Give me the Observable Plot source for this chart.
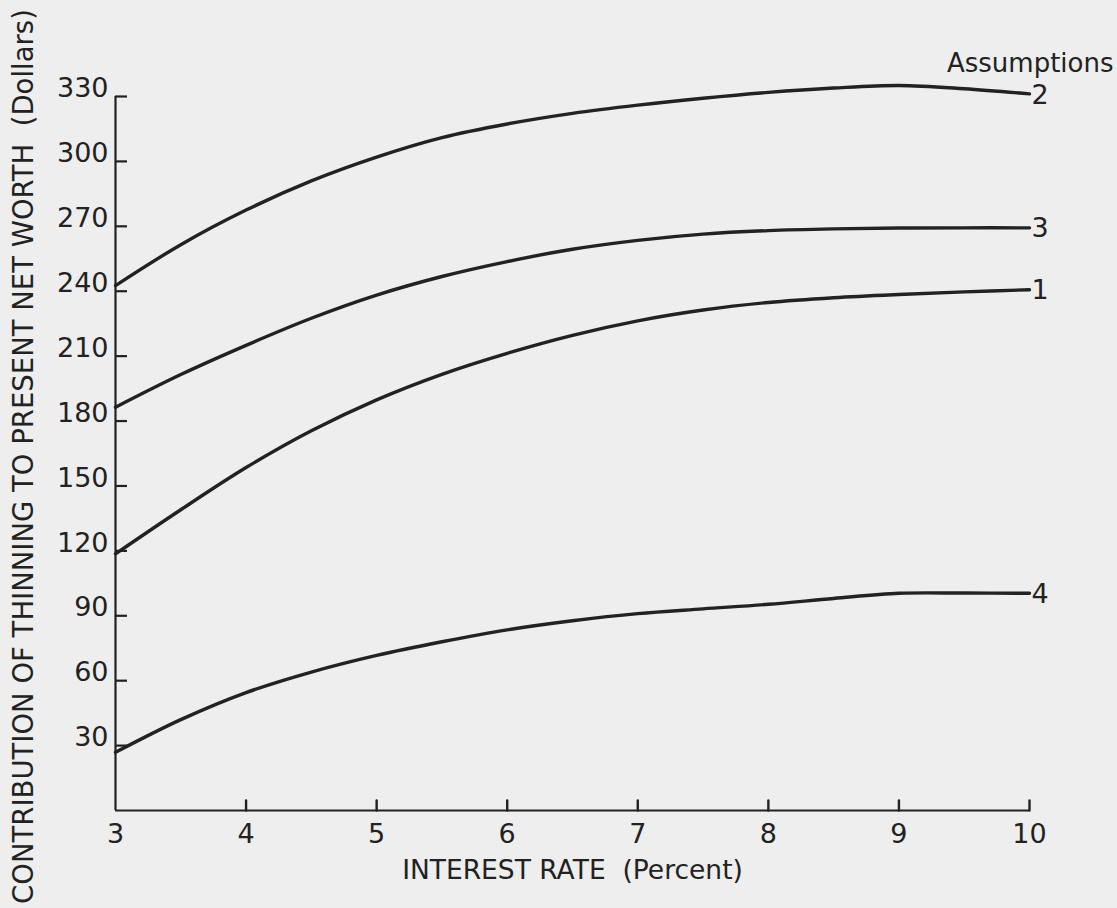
<!DOCTYPE html>
<html>
<head>
<meta charset="utf-8">
<script src="https://cdn.jsdelivr.net/npm/d3@7"></script>
<script src="https://cdn.jsdelivr.net/npm/@observablehq/plot@0.6"></script>
<style>
  html, body { margin: 0; padding: 0; background: #eeeeee; }
  #chart svg { display: block; background: transparent; }
</style>
</head>
<body>
<div id="chart"></div>
<script>
// Interest rate (percent)
const rates = [3, 3.5, 4, 4.5, 5, 5.5, 6, 6.5, 7, 7.5, 8, 8.5, 9, 9.5, 10];
// Contribution of thinning to present net worth (dollars), by assumption
const assumption1 = [118.6, 139, 158.5, 175.5, 189.8, 201.6, 211.3, 219.6, 226.3, 231.3, 234.8, 237, 238.5, 239.7, 240.7];
const assumption2 = [242.6, 261.5, 277.5, 291, 302, 311, 317.3, 322.2, 326, 329.2, 331.9, 333.9, 335.1, 333.6, 331.2];
const assumption3 = [186.4, 201.5, 215, 227.5, 238.2, 246.8, 253.7, 259.4, 263.5, 266.4, 268, 268.8, 269.2, 269.3, 269.3];
const assumption4 = [26.9, 42, 54.5, 64, 71.7, 78, 83.5, 87.7, 91, 93.2, 95.3, 98, 100.4, 100.5, 100.4];
const seriesNames = ["1", "2", "3", "4"];
const seriesValues = [assumption1, assumption2, assumption3, assumption4];

const xTicks = [3, 4, 5, 6, 7, 8, 9, 10];
const yTicks = [30, 60, 90, 120, 150, 180, 210, 240, 270, 300, 330];

const xTitle = "INTEREST RATE  (Percent)";
const yTitle = "CONTRIBUTION OF THINNING TO PRESENT NET WORTH  (Dollars)";
const legendTitle = "Assumptions";

const rows = seriesNames.flatMap((name, i) =>
  rates.map((r, j) => ({ series: name, rate: r, value: seriesValues[i][j] }))
);
const endRows = seriesNames.map((name, i) => ({
  series: name,
  rate: rates[rates.length - 1],
  value: seriesValues[i][rates.length - 1]
}));

const ink = "#222";
const font = "DejaVu Sans, Verdana, sans-serif";

const W = 1117, H = 908, ML = 115, MR = 88, MT = 96, MB = 98;
const frameW = W - ML - MR;

const tickUp = { draw(context, l) { context.moveTo(0, 0); context.lineTo(0, -l); } };

const chart = Plot.plot({
  width: W,
  height: H,
  marginLeft: ML,
  marginRight: MR,
  marginTop: MT,
  marginBottom: MB,
  style: { fontFamily: font, color: ink, background: "transparent", overflow: "visible" },
  x: { domain: [3, 10], axis: null },
  y: { domain: [0, 330], axis: null },
  marks: [
    // axis lines
    Plot.ruleX([3], { stroke: ink, strokeWidth: 2.2 }),
    Plot.ruleY([0], { stroke: ink, strokeWidth: 2.2 }),
    // inward tick marks
    Plot.tickY(yTicks, { y: d => d, insetRight: frameW - 12, stroke: ink, strokeWidth: 2.2 }),
    Plot.vector(xTicks.slice(1), { x: d => d, frameAnchor: "bottom", length: 10, anchor: "start", shape: tickUp, stroke: ink, strokeWidth: 2.4 }),
    // tick labels
    Plot.axisY(yTicks, { anchor: "left", tickSize: 0, tickPadding: 7, dy: -8, fontSize: 27, fill: ink, label: null, tickFormat: d => String(d) }),
    Plot.axisX(xTicks, { anchor: "bottom", tickSize: 0, tickPadding: 13, fontSize: 27, fill: ink, label: null, tickFormat: d => String(d) }),
    // curves
    Plot.line(rows, { x: "rate", y: "value", z: "series", stroke: ink, strokeWidth: 3.4, curve: "catmull-rom" }),
    // end labels
    Plot.text(endRows, { x: "rate", y: "value", text: "series", textAnchor: "start", dx: 2, dy: 1, fontSize: 27, fill: ink }),
    // titles
    Plot.text([legendTitle], { frameAnchor: "top-right", textAnchor: "end", lineAnchor: "middle", dx: 84, dy: -33, fontSize: 26, fill: ink }),
    Plot.text([xTitle], { frameAnchor: "bottom", textAnchor: "middle", lineAnchor: "middle", dy: 60, fontSize: 26.5, fill: ink }),
    Plot.text([yTitle], { frameAnchor: "left", textAnchor: "middle", lineAnchor: "middle", rotate: -90, dx: -91, dy: 3, fontSize: 27.5, fill: ink })
  ]
});
document.getElementById("chart").appendChild(chart);
</script>
</body>
</html>
